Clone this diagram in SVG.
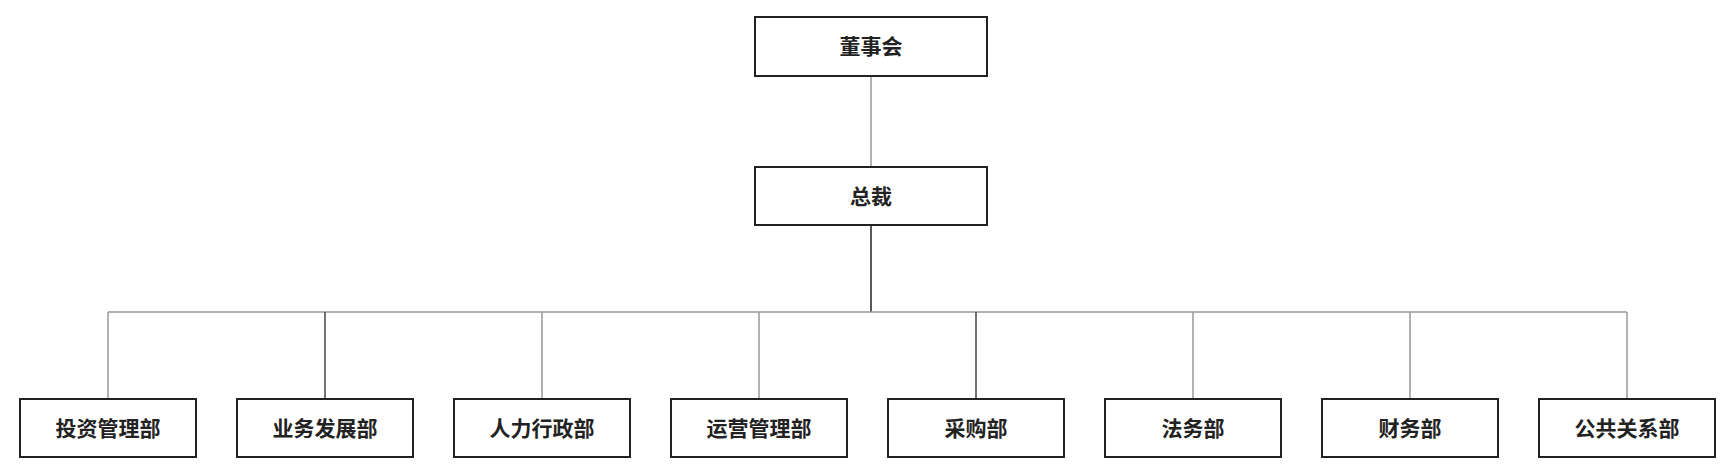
<svg xmlns="http://www.w3.org/2000/svg" width="1724" height="476" viewBox="0 0 1724 476">
<style>
.b{fill:#fff;stroke:#222;stroke-width:2}
.t{font-family:"Liberation Serif","Noto Sans CJK SC",serif;font-size:21px;font-weight:bold;text-anchor:middle;fill:#222}
.c{stroke:#999;stroke-width:1.5;fill:none}
</style>
<rect width="1724" height="476" fill="#fff"/>
<g id="connectors">
<line class="c" x1="871" y1="76" x2="871" y2="167"/>
<line x1="871" y1="225" x2="871" y2="312" stroke="#222" stroke-width="1.5"/>
<line class="c" x1="108" y1="312" x2="1627" y2="312" stroke-width="2"/>
<line class="c" x1="108" y1="312" x2="108" y2="399"/>
<line x1="325" y1="312" x2="325" y2="399" stroke="#444" stroke-width="1.5"/>
<line class="c" x1="542" y1="312" x2="542" y2="399"/>
<line class="c" x1="759" y1="312" x2="759" y2="399"/>
<line x1="976" y1="312" x2="976" y2="399" stroke="#444" stroke-width="1.5"/>
<line class="c" x1="1193" y1="312" x2="1193" y2="399"/>
<line class="c" x1="1410" y1="312" x2="1410" y2="399"/>
<line class="c" x1="1627" y1="312" x2="1627" y2="399"/>
</g>
<g id="n0"><rect class="b" x="755" y="17" width="232" height="59"/><text class="t" x="871" y="54">董事会</text></g>
<g id="n1"><rect class="b" x="755" y="167" width="232" height="58"/><text class="t" x="871" y="204">总裁</text></g>
<g id="n2"><rect class="b" x="20" y="399" width="176" height="58"/><text class="t" x="108" y="436">投资管理部</text></g>
<g id="n3"><rect class="b" x="237" y="399" width="176" height="58"/><text class="t" x="325" y="436">业务发展部</text></g>
<g id="n4"><rect class="b" x="454" y="399" width="176" height="58"/><text class="t" x="542" y="436">人力行政部</text></g>
<g id="n5"><rect class="b" x="671" y="399" width="176" height="58"/><text class="t" x="759" y="436">运营管理部</text></g>
<g id="n6"><rect class="b" x="888" y="399" width="176" height="58"/><text class="t" x="976" y="436">采购部</text></g>
<g id="n7"><rect class="b" x="1105" y="399" width="176" height="58"/><text class="t" x="1193" y="436">法务部</text></g>
<g id="n8"><rect class="b" x="1322" y="399" width="176" height="58"/><text class="t" x="1410" y="436">财务部</text></g>
<g id="n9"><rect class="b" x="1539" y="399" width="176" height="58"/><text class="t" x="1627" y="436">公共关系部</text></g>
</svg>
